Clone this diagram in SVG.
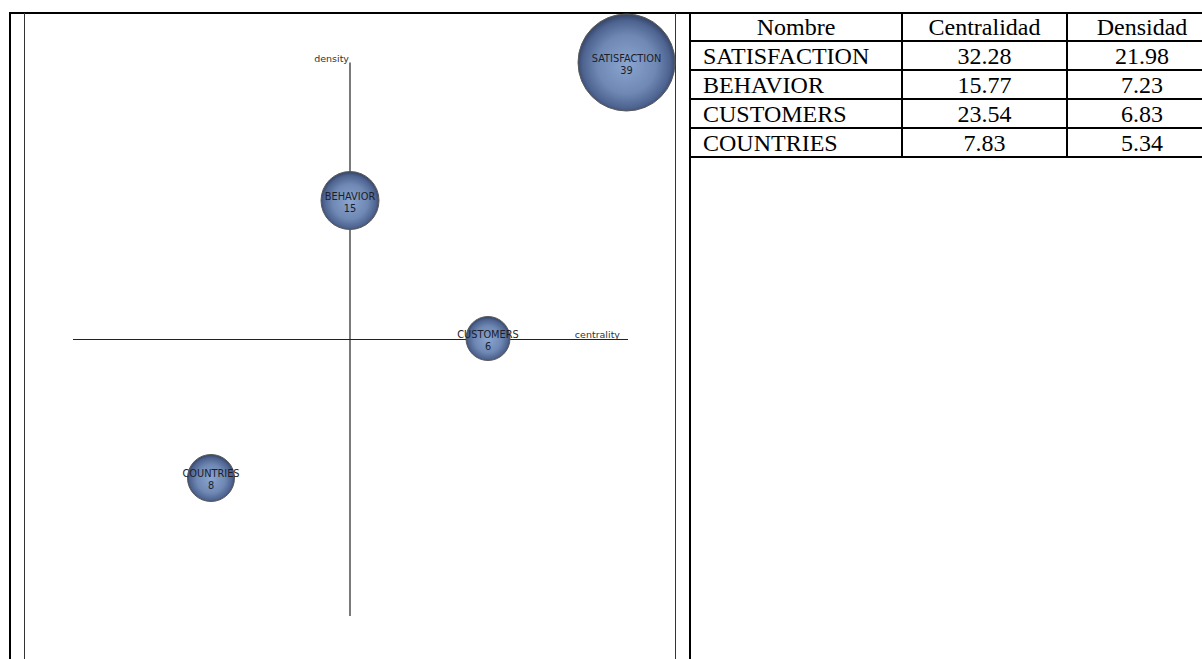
<svg xmlns="http://www.w3.org/2000/svg" width="1202" height="659" viewBox="0 0 1202 659">
<defs>
  <radialGradient id="bub" cx="50%" cy="52%" r="50%">
    <stop offset="0%" stop-color="#8aa5cf"/>
    <stop offset="60%" stop-color="#6f89b4"/>
    <stop offset="90%" stop-color="#4e6390"/>
    <stop offset="100%" stop-color="#3a4b70"/>
  </radialGradient>
</defs>
<style>
  .frame { stroke: #000; stroke-width: 2; fill: none; }
  .thin { stroke: #333; stroke-width: 1; fill: none; }
  .axis { stroke: #222; stroke-width: 1.2; fill: none; }
  .bubble { fill: url(#bub); stroke: #5a5a5a; stroke-width: 1; }
  .blabel { font-family: "DejaVu Sans", Verdana, sans-serif; font-size: 9.8px; fill: #1e1e28; text-anchor: middle; }
  .alabel { font-family: "DejaVu Sans", Verdana, sans-serif; font-size: 9.5px; fill: #333; text-anchor: end; }
  .tt { font-family: "Liberation Serif", "Times New Roman", serif; font-size: 24px; fill: #000; }
  .c { text-anchor: middle; }
</style>
<rect width="1202" height="659" fill="#fff"/>
<g id="frame">
  <line class="frame" x1="10" y1="13" x2="1202" y2="13"/>
  <line class="frame" x1="10" y1="12" x2="10" y2="659"/>
  <line class="thin" x1="24.5" y1="13" x2="24.5" y2="659"/>
  <line class="thin" x1="675.5" y1="13" x2="675.5" y2="659"/>
  <line class="frame" x1="690" y1="12" x2="690" y2="659"/>
</g>
<g id="connectors">
  <line class="axis" x1="350" y1="62.5" x2="350" y2="616"/>
  <line class="axis" x1="73" y1="339.5" x2="628" y2="339.5"/>
</g>
<g id="axis-labels">
  <text class="alabel" x="349" y="62">density</text>
  <text class="alabel" x="620" y="338">centrality</text>
</g>
<g id="node-satisfaction">
  <circle class="bubble" cx="626.5" cy="62.5" r="48.5"/>
  <text class="blabel" x="626.5" y="62">SATISFACTION</text>
  <text class="blabel" x="626.5" y="74">39</text>
</g>
<g id="node-behavior">
  <circle class="bubble" cx="350" cy="200.5" r="29"/>
  <text class="blabel" x="350" y="200">BEHAVIOR</text>
  <text class="blabel" x="350" y="212">15</text>
</g>
<g id="node-customers">
  <circle class="bubble" cx="488" cy="338.5" r="22"/>
  <text class="blabel" x="488" y="338">CUSTOMERS</text>
  <text class="blabel" x="488" y="350">6</text>
</g>
<g id="node-countries">
  <circle class="bubble" cx="211" cy="478" r="23.5"/>
  <text class="blabel" x="211" y="477">COUNTRIES</text>
  <text class="blabel" x="211" y="489">8</text>
</g>
<g id="table">
  <line class="frame" x1="690" y1="41" x2="1202" y2="41"/>
  <line class="frame" x1="690" y1="70" x2="1202" y2="70"/>
  <line class="frame" x1="690" y1="99" x2="1202" y2="99"/>
  <line class="frame" x1="690" y1="128" x2="1202" y2="128"/>
  <line class="frame" x1="690" y1="157" x2="1202" y2="157"/>
  <line class="frame" x1="902" y1="13" x2="902" y2="157"/>
  <line class="frame" x1="1067" y1="13" x2="1067" y2="157"/>
  <text class="tt c" x="796" y="35">Nombre</text>
  <text class="tt c" x="984.5" y="35">Centralidad</text>
  <text class="tt c" x="1142" y="35">Densidad</text>
  <text class="tt" x="703" y="63.5">SATISFACTION</text>
  <text class="tt c" x="984.5" y="63.5">32.28</text>
  <text class="tt c" x="1142" y="63.5">21.98</text>
  <text class="tt" x="703" y="92.5">BEHAVIOR</text>
  <text class="tt c" x="984.5" y="92.5">15.77</text>
  <text class="tt c" x="1142" y="92.5">7.23</text>
  <text class="tt" x="703" y="121.5">CUSTOMERS</text>
  <text class="tt c" x="984.5" y="121.5">23.54</text>
  <text class="tt c" x="1142" y="121.5">6.83</text>
  <text class="tt" x="703" y="150.5">COUNTRIES</text>
  <text class="tt c" x="984.5" y="150.5">7.83</text>
  <text class="tt c" x="1142" y="150.5">5.34</text>
</g>
</svg>
